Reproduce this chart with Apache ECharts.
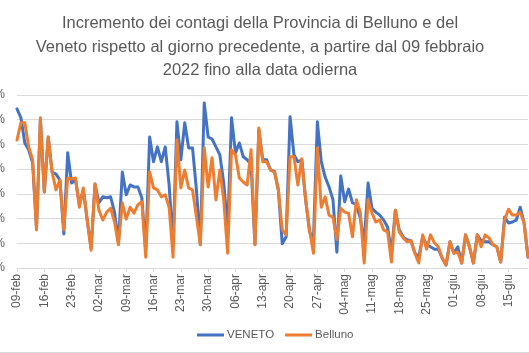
<!DOCTYPE html>
<html><head><meta charset="utf-8">
<script src="https://cdn.jsdelivr.net/npm/echarts@6/dist/echarts.min.js"></script>
<style>html,body{margin:0;padding:0;background:#fff}#c{width:529px;height:353px}</style>
</head><body><div id="c"></div>
<script>
const titleLines = ["Incremento dei contagi della Provincia di Belluno e del","Veneto rispetto al giorno precedente, a partire dal 09 febbraio","2022 fino alla data odierna"];
const seriesNames = ["VENETO","Belluno"];
const dates = [
"09-feb","10-feb","11-feb","12-feb","13-feb","14-feb","15-feb","16-feb","17-feb","18-feb","19-feb","20-feb","21-feb","22-feb","23-feb","24-feb","25-feb","26-feb","27-feb","28-feb",
"01-mar","02-mar","03-mar","04-mar","05-mar","06-mar","07-mar","08-mar","09-mar","10-mar","11-mar","12-mar","13-mar","14-mar","15-mar","16-mar","17-mar","18-mar","19-mar","20-mar","21-mar","22-mar","23-mar","24-mar","25-mar","26-mar","27-mar","28-mar","29-mar","30-mar","31-mar",
"01-apr","02-apr","03-apr","04-apr","05-apr","06-apr","07-apr","08-apr","09-apr","10-apr","11-apr","12-apr","13-apr","14-apr","15-apr","16-apr","17-apr","18-apr","19-apr","20-apr","21-apr","22-apr","23-apr","24-apr","25-apr","26-apr","27-apr","28-apr","29-apr","30-apr",
"01-mag","02-mag","03-mag","04-mag","05-mag","06-mag","07-mag","08-mag","09-mag","10-mag","11-mag","12-mag","13-mag","14-mag","15-mag","16-mag","17-mag","18-mag","19-mag","20-mag","21-mag","22-mag","23-mag","24-mag","25-mag","26-mag","27-mag","28-mag","29-mag","30-mag","31-mag",
"01-giu","02-giu","03-giu","04-giu","05-giu","06-giu","07-giu","08-giu","09-giu","10-giu","11-giu","12-giu","13-giu","14-giu","15-giu","16-giu","17-giu","18-giu","19-giu","20-giu"];
const veneto = [
32.2,30.4,25.3,23.9,21.3,8.1,30.0,15.4,26.5,19.4,19.0,17.8,6.9,23.3,17.2,17.8,12.8,15.8,9.7,4.0,
17.0,13.2,14.4,14.2,14.4,11.3,5.1,19.4,14.8,16.8,16.4,16.4,14.2,3.6,26.5,21.5,24.5,21.5,24.5,16.8,
4.7,29.6,21.9,29.4,24.3,24.3,15.8,4.7,33.4,26.5,26.1,24.5,22.9,17.2,7.7,30.4,23.3,25.3,22.5,21.9,
20.9,4.7,27.9,21.9,21.9,19.8,19.6,15.8,4.9,6.3,30.6,22.9,21.5,21.9,13.8,7.3,5.7,29.6,21.5,18.4,
16.4,13.8,3.2,18.6,13.4,16.0,13.2,12.8,10.1,5.1,17.2,12.1,11.3,10.7,9.7,8.3,3.0,11.7,7.7,6.3,
5.7,5.5,3.0,2.2,6.3,4.7,4.3,3.8,3.8,2.0,0.6,5.3,3.0,4.3,1.0,6.7,4.3,1.0,6.7,5.5,
5.3,5.3,4.7,4.3,1.2,10.3,9.1,9.3,9.7,12.3,9.1,2.2];
const belluno = [
25.9,29.4,29.4,24.5,21.9,7.7,30.4,15.4,26.5,19.4,15.8,17.8,7.7,18.2,18.0,18.2,12.3,16.2,9.7,3.6,
17.0,11.7,9.7,11.3,12.1,9.3,4.7,13.2,9.9,12.3,11.1,12.8,13.4,2.2,19.4,16.2,15.8,14.4,14.8,12.3,
2.2,25.9,16.2,19.8,16.2,15.8,10.3,4.7,24.3,16.4,22.3,13.8,19.8,13.8,3.0,23.9,22.9,18.2,17.4,16.8,
23.9,4.7,28.3,21.5,21.5,19.8,19.4,15.8,7.7,6.7,22.5,22.5,16.8,22.1,13.8,7.7,3.0,24.3,12.3,14.4,
10.7,10.3,5.7,12.1,11.3,11.1,6.3,13.8,11.3,1.0,13.8,11.1,9.3,9.7,7.7,7.3,1.2,11.7,7.3,6.1,
5.3,5.5,3.0,1.0,6.7,3.8,6.7,5.1,4.3,2.0,0.6,5.3,3.0,3.2,1.0,6.7,4.3,1.0,6.7,4.3,
6.7,6.1,4.7,4.3,1.2,9.7,11.9,10.7,10.7,11.3,9.1,2.2];
const yTicks = {min:0, max:35, interval:5};

const chart = echarts.init(document.getElementById('c'), null, {renderer:'canvas'});
const txt = '#595959';
chart.setOption({
  animation:false,
  backgroundColor:'#fff',
  title:{text:titleLines.join('\n'), left:255, textAlign:'center', top:7,
    textStyle:{fontFamily:'Liberation Sans', fontSize:16.5, fontWeight:'normal', color:txt, lineHeight:23.5}},
  grid:{left:17, right:1, top:95, bottom:85, containLabel:false, outerBoundsMode:'none'},
  legend:{data:seriesNames, bottom:7, left:192, itemWidth:27, itemHeight:3, icon:'rect', itemGap:11,
    textStyle:{fontFamily:'Liberation Sans', fontSize:11.5, color:txt, padding:[0,0,0,-2]}},
  xAxis:{type:'category', data:dates, boundaryGap:false,
    axisLine:{lineStyle:{color:'#d9d9d9'}},
    axisTick:{alignWithLabel:true, interval:6, length:4, lineStyle:{color:'#d9d9d9'}},
    axisLabel:{interval:6, rotate:90, fontFamily:'Liberation Sans', fontSize:12, color:txt, margin:6},
    splitLine:{show:false}},
  yAxis:{type:'value', min:yTicks.min, max:yTicks.max, interval:yTicks.interval,
    axisLabel:{formatter:'{value}%', fontFamily:'Liberation Sans', fontSize:12, color:txt, margin:12},
    axisLine:{show:false}, axisTick:{show:false},
    splitLine:{lineStyle:{color:'#d9d9d9', width:1}}},
  series:[
    {name:seriesNames[0], type:'line', data:veneto, symbol:'none', smooth:false,
      lineStyle:{color:'#4472C4', width:3, cap:'round', join:'round'}, itemStyle:{color:'#4472C4'}},
    {name:seriesNames[1], type:'line', data:belluno, symbol:'none', smooth:false,
      lineStyle:{color:'#ED7D31', width:3, cap:'round', join:'round'}, itemStyle:{color:'#ED7D31'}}
  ],
  graphic:[{type:'line', shape:{x1:0,y1:352.5,x2:529,y2:352.5}, style:{stroke:'#d9d9d9', lineWidth:1}}]
});
</script></body></html>
